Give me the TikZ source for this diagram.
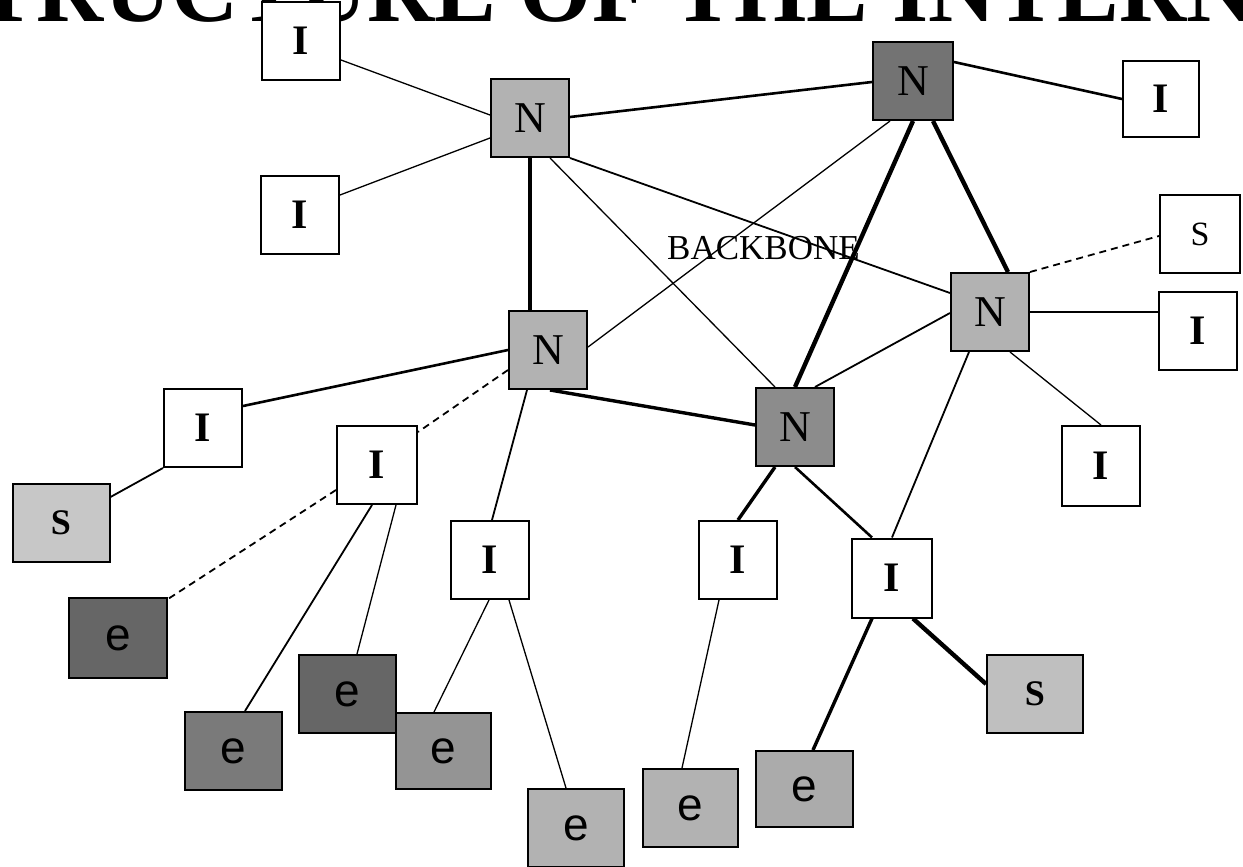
\documentclass[tikz,border=0pt]{standalone}
\usepackage{fontspec}
\setmainfont{Liberation Serif}
\newfontfamily\labelsans{Liberation Sans}
\usetikzlibrary{calc,backgrounds}

\tikzset{
  box/.style={draw, line width=2pt, minimum width=78pt, minimum height=78pt,
              inner sep=0pt, anchor=center},
  inet/.style={box, fill=white, font=\fontsize{42}{42}\selectfont\bfseries},
  nodebox/.style={box, fill=black!30, font=\fontsize{44}{44}\selectfont},
  srvbold/.style={box, minimum width=96pt, font=\fontsize{36}{36}\selectfont\bfseries},
  srvplain/.style={box, fill=white, minimum width=80pt, font=\fontsize{34}{34}\selectfont},
  endbox/.style={box, minimum width=96pt, font=\labelsans\fontsize{46}{46}\selectfont},
  wA/.style={line width=1.3pt},
  wB/.style={line width=1.8pt},
  wC/.style={line width=2.6pt},
  wD/.style={line width=3.4pt},
  wE/.style={line width=4.4pt},
  dashlink/.style={line width=1.8pt, dash pattern=on 7pt off 5pt},
}

\begin{document}
\begin{tikzpicture}[x=1pt, y=-1pt]
\useasboundingbox (0,0) rectangle (1243,867);

% heading, cut by the top edge of the page
\begin{scope}
  \clip (0,0) rectangle (1243,867);
  \node[anchor=base west, inner sep=0pt, font=\fontsize{93}{93}\selectfont\bfseries]
    (title) at (-77,22) {STRUCTURE OF THE INTERNET};
\end{scope}

% backbone routers
\node[nodebox] (n1) at (530,118) {N};
\node[nodebox, fill=black!55, minimum width=80pt] (n2) at (913,81) {N};
\node[nodebox] (n3) at (990,312) {N};
\node[nodebox] (n4) at (548,350) {N};
\node[nodebox, fill=black!45] (n5) at (795,427) {N};

% intermediate networks
\node[inet] (i1) at (301,41) {I};
\node[inet] (i2) at (300,215) {I};
\node[inet, minimum width=76pt, minimum height=76pt] (i3) at (1161,99) {I};
\node[inet] (i4) at (1198,331) {I};
\node[inet, minimum height=80pt] (i5) at (1101,466) {I};
\node[inet] (i6) at (203,428) {I};
\node[inet, minimum width=80pt] (i7) at (377,465) {I};
\node[inet] (i8) at (490,560) {I};
\node[inet] (i9) at (738,560) {I};
\node[inet, minimum width=80pt, minimum height=79pt] (i10) at (892,578) {I};

% servers
\node[srvplain] (s1) at (1200,234) {S};
\node[srvbold, fill=black!22, minimum width=97pt] (s2) at (61,523) {S};
\node[srvbold, fill=black!25] (s3) at (1035,694) {S};

% end users
\node[endbox, fill=black!60, minimum width=98pt, minimum height=80pt] (e1) at (118,638) {e};
\node[endbox, fill=black!60, minimum width=97pt] (e2) at (347,694) {e};
\node[endbox, fill=black!52, minimum width=97pt] (e3) at (233,751) {e};
\node[endbox, fill=black!42, minimum width=95pt, minimum height=76pt] (e4) at (443,751) {e};
\node[endbox, fill=black!30] (e5) at (576,828) {e};
\node[endbox, fill=black!30, minimum width=95pt] (e6) at (690,808) {e};
\node[endbox, fill=black!33, minimum width=97pt, minimum height=76pt] (e7) at (804,789) {e};

\node[anchor=base west, inner sep=0pt, font=\fontsize{35}{35}\selectfont]
  (bb) at (667,259) {BACKBONE};

\begin{pgfonlayer}{background}
  % backbone links
  \draw[wC] ($(n1.east)+(0,-1)$) -- ($(n2.west)+(0,1)$);
  \draw[wE] ($(n1.south)+(0,0)$) -- ($(n4.north)+(-18,0)$);
  \draw[wA] ($(n1.south)+(20,0)$) -- ($(n5.north)+(-20,0)$);
  \draw[wB] (n1.south east) -- ($(n3.west)+(0,-19)$);
  \draw[wA] ($(n2.south)+(-23,0)$) -- ($(n4.east)+(0,-3)$);
  \draw[wE] (n2.south) -- (n5.north);
  \draw[wE] ($(n2.south)+(20,0)$) -- ($(n3.north)+(18,0)$);
  \draw[wB] ($(n3.west)+(0,1)$) -- ($(n5.north)+(20,0)$);
  \draw[wD] ($(n4.south)+(2,0)$) -- ($(n5.west)+(0,-2)$);

  % links to intermediate networks and servers
  \draw[wA] ($(i1.east)+(0,19)$) -- ($(n1.west)+(0,-3)$);
  \draw[wA] ($(i2.east)+(0,-20)$) -- ($(n1.west)+(0,20)$);
  \draw[wC] ($(n2.east)+(0,-19)$) -- (i3.west);
  \draw[dashlink] (n3.north east) -- ($(s1.west)+(0,2)$);
  \draw[wA] (n3.east) -- ($(i4.west)+(0,-19)$);
  \draw[wA] ($(n3.south)+(20,0)$) -- (i5.north);
  \draw[wB] ($(n3.south)+(-21,0)$) -- (i10.north);
  \draw[wC] (n4.west) -- ($(i6.east)+(0,-22)$);
  \draw[dashlink] ($(n4.west)+(0,20)$) -- ($(i7.east)+(0,-33)$);
  \draw[wB] ($(n4.south)+(-21,0)$) -- ($(i8.north)+(2,0)$);
  \draw[wD] ($(n5.south)+(-20,0)$) -- (i9.north);
  \draw[wC] (n5.south) -- ($(i10.north)+(-20,0)$);

  % access links
  \draw[wB] (i6.south west) -- ($(s2.east)+(0,-26)$);
  \draw[dashlink] ($(i7.west)+(0,25)$) -- ($(e1.north east)+(0,2)$);
  \draw[wB] ($(i7.south)+(-5,0)$) -- ($(e3.north)+(12,0)$);
  \draw[wA] ($(i7.south)+(19,0)$) -- ($(e2.north)+(10,0)$);
  \draw[wA] ($(i8.south)+(-1,0)$) -- ($(e4.north)+(-9,0)$);
  \draw[wA] ($(i8.south)+(19,0)$) -- ($(e5.north)+(-10,0)$);
  \draw[wA] ($(i9.south)+(-19,0)$) -- ($(e6.north)+(-8,0)$);
  \draw[wD] ($(i10.south)+(-20,0)$) -- ($(e7.north)+(9,0)$);
  \draw[wE] ($(i10.south)+(21,0)$) -- ($(s3.west)+(0,-10)$);
\end{pgfonlayer}
\end{tikzpicture}
\end{document}
